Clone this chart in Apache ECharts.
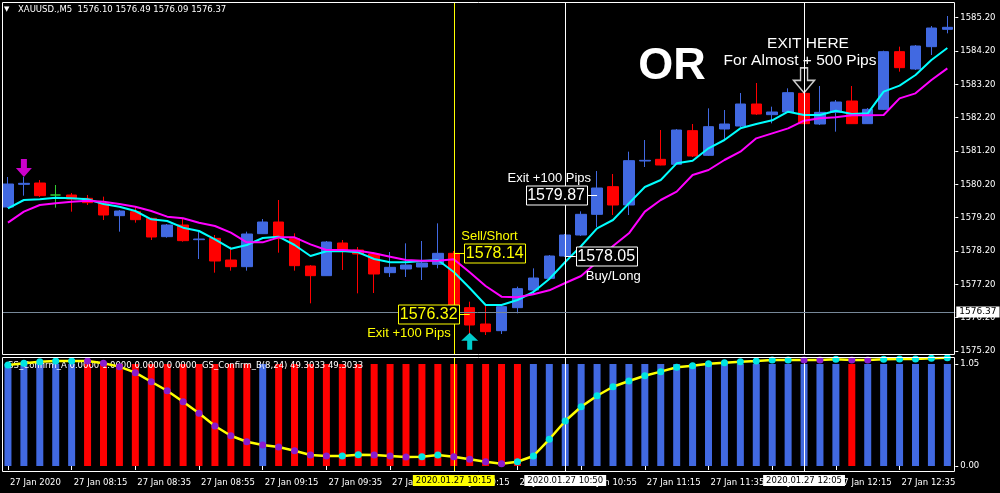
<!DOCTYPE html>
<html><head><meta charset="utf-8">
<script src="https://cdn.jsdelivr.net/npm/echarts@6/dist/echarts.min.js"></script>
<style>html,body{margin:0;padding:0;background:#000}#c{width:1000px;height:493px}</style>
</head><body><div id="c"></div>
<script>
// ---------- DATA ----------
const times = ['07:55','08:00','08:05','08:10','08:15','08:20','08:25','08:30','08:35','08:40','08:45','08:50',
 '08:55','09:00','09:05','09:10','09:15','09:20','09:25','09:30','09:35','09:40','09:45','09:50',
 '09:55','10:00','10:05','10:10','10:15','10:20','10:25','10:30','10:35','10:40','10:45','10:50',
 '10:55','11:00','11:05','11:10','11:15','11:20','11:25','11:30','11:35','11:40','11:45','11:50',
 '11:55','12:00','12:05','12:10','12:15','12:20','12:25','12:30','12:35','12:40','12:45','12:50'];
const opens = [1579.52,1580.20,1580.24,1579.88,1579.88,1579.78,1579.63,1579.26,1579.38,1579.18,1578.63,1578.98,
 1578.54,1578.58,1577.93,1577.73,1578.72,1579.07,1578.57,1577.75,1577.46,1578.44,1578.23,1578.11,
 1577.55,1577.66,1577.72,1577.80,1578.13,1576.50,1576.01,1575.81,1576.50,1577.03,1577.38,1578.05,
 1578.68,1579.30,1580.13,1579.58,1580.90,1580.95,1580.80,1581.81,1581.07,1581.86,1581.95,1582.61,
 1582.29,1582.37,1582.93,1582.01,1582.36,1582.70,1582.02,1582.45,1584.18,1583.66,1584.33,1584.85];
const closes = [1580.21,1580.23,1579.86,1579.88,1579.76,1579.65,1579.28,1579.40,1579.14,1578.62,1578.98,1578.51,
 1578.56,1577.90,1577.73,1578.71,1579.07,1578.57,1577.76,1577.46,1578.47,1578.19,1578.11,1577.51,
 1577.71,1577.78,1577.84,1578.13,1576.38,1575.98,1575.78,1576.53,1577.07,1577.39,1578.05,1578.68,
 1579.30,1580.09,1579.58,1580.91,1580.92,1580.78,1581.83,1581.05,1581.93,1582.01,1582.61,1582.31,
 1582.37,1582.95,1582.02,1582.36,1582.67,1582.02,1582.45,1584.18,1583.70,1584.35,1584.89,1584.91];
const highs = [1580.42,1580.42,1580.33,1580.18,1579.94,1579.88,1579.83,1579.43,1579.53,1579.20,1579.01,1579.18,
 1578.78,1578.68,1578.33,1578.78,1579.16,1579.73,1578.73,1577.78,1578.50,1578.53,1578.32,1578.17,
 1578.17,1578.43,1578.50,1579.03,1578.20,1576.68,1576.58,1576.58,1577.13,1577.68,1578.08,1578.71,
 1579.39,1580.60,1580.51,1581.18,1581.53,1581.83,1581.86,1582.01,1582.48,1582.43,1582.94,1583.24,
 1582.53,1583.08,1582.97,1583.15,1582.73,1583.15,1582.49,1584.21,1584.33,1584.38,1584.95,1585.25];
const lows = [1579.49,1579.86,1579.82,1579.50,1579.38,1579.58,1579.13,1578.78,1579.05,1578.53,1578.60,1578.48,
 1577.96,1577.55,1577.61,1577.61,1578.71,1578.15,1577.61,1576.63,1577.45,1577.63,1576.93,1576.94,
 1577.42,1577.42,1577.33,1577.68,1576.37,1575.68,1575.68,1575.71,1576.33,1576.88,1577.36,1578.02,
 1578.65,1578.92,1579.28,1579.28,1580.72,1580.77,1580.78,1581.02,1581.05,1581.53,1581.92,1582.28,
 1582.03,1582.34,1582.01,1581.98,1581.78,1582.01,1582.01,1582.43,1583.58,1583.63,1584.08,1584.73];
const maFast = [1579.48,1579.73,1579.75,1579.80,1579.78,1579.75,1579.61,1579.53,1579.40,1579.15,1579.10,1578.90,
 1578.80,1578.55,1578.27,1578.38,1578.59,1578.63,1578.38,1578.05,1578.19,1578.20,1578.16,1577.96,
 1577.86,1577.86,1577.90,1577.93,1577.57,1577.09,1576.58,1576.58,1576.73,1576.97,1577.36,1577.87,
 1578.35,1578.88,1579.13,1579.63,1580.12,1580.33,1580.83,1580.91,1581.28,1581.53,1581.88,1582.01,
 1582.12,1582.38,1582.28,1582.28,1582.41,1582.31,1582.33,1582.98,1583.16,1583.48,1583.93,1584.29];
const maSlow = [1579.05,1579.38,1579.58,1579.63,1579.68,1579.71,1579.68,1579.61,1579.53,1579.40,1579.23,1579.18,
 1579.05,1578.95,1578.75,1578.46,1578.46,1578.61,1578.61,1578.40,1578.23,1578.23,1578.21,1578.13,
 1578.03,1577.93,1577.91,1577.91,1577.95,1577.56,1577.15,1576.83,1576.81,1576.90,1577.02,1577.24,
 1577.45,1577.87,1578.35,1578.73,1579.38,1579.73,1579.98,1580.48,1580.63,1580.93,1581.18,1581.58,
 1581.73,1581.88,1582.11,1582.18,1582.21,1582.27,1582.27,1582.28,1582.78,1582.93,1583.33,1583.68];
// GS_Confirm_A histogram: 1 = up (blue), 0 = down (red); bars are full height
const histSignal = [1,1,1,1,1,0,0,0,0,0,0,0,0,0,0,0,1,0,0,0,0,0,0,0,0,0,0,0,0,0,0,0,0,
 1,1,1,1,1,1,1,1,1,1,1,1,1,1,1,1,1,1,1,1,0,1,1,1,1,1,1];
const histValue = 1;
// GS_Confirm_B line (panel scale) and dot state: 1 = rising (cyan), 0 = falling (purple)
const confirmB = [0.990,1.007,1.023,1.029,1.029,1.029,1.007,0.974,0.915,0.826,0.738,0.630,
 0.517,0.392,0.297,0.238,0.206,0.186,0.150,0.108,0.098,0.098,0.111,0.108,
 0.098,0.088,0.091,0.108,0.091,0.066,0.042,0.023,0.042,0.098,0.262,0.441,
 0.581,0.689,0.777,0.833,0.885,0.925,0.968,0.983,1.003,1.013,1.023,1.029,
 1.039,1.039,1.039,1.039,1.046,1.039,1.039,1.046,1.049,1.049,1.056,1.062];
const dotRising = [1,1,1,1,1,0,0,0,0,0,0,0,0,0,0,0,0,0,0,0,0,1,1,0,0,0,1,1,0,0,0,0,
 1,1,1,1,1,1,1,1,1,1,1,1,1,1,1,1,1,1,0,0,1,0,0,1,1,1,1,1];
const priceTicks = [1575.2,1576.2,1577.2,1578.2,1579.2,1580.2,1581.2,1582.2,1583.2,1584.2,1585.2];
const lowerTickValues = [0, 1];
const lowerTickLabels = ['0.00', '1.05'];
const timeLabelCats = ['07:55','08:15','08:35','08:55','09:15','09:35','09:55','10:15','10:35','10:55','11:15','11:35','11:55','12:15','12:35'];
const timeLabelTexts = ['27 Jan 2020','27 Jan 08:15','27 Jan 08:35','27 Jan 08:55','27 Jan 09:15','27 Jan 09:35','27 Jan 09:55',
 '27 Jan 10:15','27 Jan 10:35','27 Jan 10:55','27 Jan 11:15','27 Jan 11:35','27 Jan 11:55','27 Jan 12:15','27 Jan 12:35'];
const vLineTimes = ['10:15','10:50','12:05'];
const vLineTexts = ['2020.01.27 10:15','2020.01.27 10:50','2020.01.27 12:05'];
const bidPrice = 1576.37;
const sellArrow = {time:'08:00', price:1580.69};
const buyArrow = {time:'10:20', price:1575.49};
const exitArrow = {time:'12:05', price:1583.32};
const annTimes = ['10:15','10:20','11:00','10:50'];
const annPrices = [1578.14, 1576.32, 1579.87, 1578.05];
const annNotes = ['Sell/Short','Exit +100 Pips','Exit +100 Pips','Buy/Long'];
const headerText = 'XAUUSD.,M5  1576.10 1576.49 1576.09 1576.37';
const lowerHeaderText = 'GS_Confirm_A 0.0000 1.0000 0.0000 0.0000  GS_Confirm_B(8,24) 49.3033 49.3033';

// ---------- STYLE ----------
const UI = '"DejaVu Sans", sans-serif';
const UIS = 8.5;
const AR = '"Liberation Sans", Arial, sans-serif';
const BLUE = '#4169e1', RED = '#ff0000';
const vLineColors = ['#ffff00', '#ffffff', '#ffffff'];
const vLabelBg = ['#ffff00', '#ffffff', '#ffffff'];

const chart = echarts.init(document.getElementById('c'));
const candleData = times.map((t, i) => [opens[i], closes[i], lows[i], highs[i]]);
const showLabel = (i, v) => timeLabelCats.indexOf(v) >= 0;

const option = {
  backgroundColor: '#000',
  animation: false,
  grid: [
    {left: -4.7, top: 2, width: 960, height: 353},
    {left: -4.7, top: 357, width: 960, height: 115}
  ],
  xAxis: [
    {type: 'category', gridIndex: 0, data: times, boundaryGap: true, show: false},
    {type: 'category', gridIndex: 1, data: times, boundaryGap: true,
     axisLine: {show: false}, splitLine: {show: false},
     axisTick: {show: true, alignWithLabel: true, interval: showLabel, length: 4, lineStyle: {color: '#fff'}},
     axisLabel: {interval: showLabel, formatter: v => timeLabelTexts[timeLabelCats.indexOf(v)],
       align: 'left', color: '#fff', fontFamily: UI, fontSize: UIS, margin: 6, padding: [0, 0, 0, 2]}}
  ],
  yAxis: [
    {type: 'value', gridIndex: 0, position: 'right', min: 1575.08, max: 1585.67,
     splitLine: {show: false}, axisLine: {show: false},
     axisTick: {show: true, customValues: priceTicks, length: 3, lineStyle: {color: '#fff'}},
     axisLabel: {customValues: priceTicks, formatter: v => v.toFixed(2), color: '#fff', fontFamily: UI, fontSize: UIS, margin: 5}},
    {type: 'value', gridIndex: 1, position: 'right', min: -0.0588, max: 1.0686,
     splitLine: {show: false}, axisLine: {show: false},
     axisTick: {show: true, customValues: lowerTickValues, length: 3, lineStyle: {color: '#fff'}},
     axisLabel: {customValues: lowerTickValues, formatter: v => lowerTickLabels[lowerTickValues.indexOf(v)],
       color: '#fff', fontFamily: UI, fontSize: UIS, margin: 5}}
  ],
  series: [
    {type: 'candlestick', xAxisIndex: 0, yAxisIndex: 0, data: candleData, barWidth: 11, z: 2,
     itemStyle: {color: BLUE, color0: RED, borderColor: BLUE, borderColor0: RED, borderColorDoji: '#32cd32', borderWidth: 1},
     markLine: {silent: true, symbol: ['none', 'none'], animation: false,
       data: vLineTimes.map((t, k) => ({xAxis: t, lineStyle: {color: vLineColors[k], width: 1, type: 'solid'}, label: {show: false}}))
         .concat([{yAxis: bidPrice, lineStyle: {color: '#778899', width: 1, type: 'solid'},
           label: {show: true, position: 'end', formatter: bidPrice.toFixed(2), distance: 1,
             backgroundColor: '#fff', color: '#000', fontFamily: UI, fontSize: 9, padding: [1, 3, 1, 3]}}])}},
    {type: 'line', xAxisIndex: 0, yAxisIndex: 0, data: maFast, showSymbol: false, z: 3,
     lineStyle: {color: '#00ffff', width: 2}},
    {type: 'line', xAxisIndex: 0, yAxisIndex: 0, data: maSlow, showSymbol: false, z: 3,
     lineStyle: {color: '#ff00ff', width: 2}},
    {type: 'scatter', xAxisIndex: 0, yAxisIndex: 0, z: 4, silent: true,
     data: [
       {value: [sellArrow.time, sellArrow.price], symbol: 'path://M5,0L11,0L11,9L16,9L8,18L0,9L5,9Z', symbolSize: [16, 18],
        itemStyle: {color: '#ff00ff'}},
       {value: [buyArrow.time, buyArrow.price], symbol: 'path://M8.5,0L17,8L11,8L11,17L6,17L6,8L0,8Z', symbolSize: [17, 17],
        itemStyle: {color: '#00ffff'}},
       {value: [exitArrow.time, exitArrow.price], symbol: 'path://M7,0L14,0L14,12L21,12L10.5,24L0,12L7,12Z', symbolSize: [21, 25],
        itemStyle: {color: '#000', borderColor: '#fff', borderWidth: 1.5}}
     ]},
    {type: 'bar', xAxisIndex: 1, yAxisIndex: 1, barWidth: 7, z: 2,
     data: histSignal.map(s => ({value: histValue, itemStyle: {color: s ? BLUE : RED}})),
     markLine: {silent: true, symbol: ['none', 'none'], animation: false,
       data: vLineTimes.map((t, k) => ({xAxis: t, lineStyle: {color: vLineColors[k], width: 1, type: 'solid'},
         label: {show: true, position: 'start', formatter: vLineTexts[k], distance: 3, backgroundColor: vLabelBg[k],
           color: '#000', fontFamily: UI, fontSize: UIS, padding: [1, 3, 1, 3]}}))}},
    {type: 'line', xAxisIndex: 1, yAxisIndex: 1, z: 5, clip: false,
     data: confirmB.map((v, i) => ({value: v, itemStyle: {color: dotRising[i] ? '#00e5e5' : '#8a1ccf'}})),
     symbol: 'circle', symbolSize: 7, showSymbol: true,
     lineStyle: {color: '#ffff00', width: 2.5}}
  ]
};
chart.setOption(option);

// ---------- ANNOTATIONS (positioned through the chart's own scales) ----------
const annStyle = [
  {side: 'right', color: '#ffff00', noteDx: -3, noteDy: -17.5},
  {side: 'left', color: '#ffff00', noteDx: -31, noteDy: 19},
  {side: 'left', color: '#ffffff', noteDx: -18, noteDy: -17},
  {side: 'right', color: '#ffffff', noteDx: 10, noteDy: 19.5}
];
const g = [];
annTimes.forEach((t, k) => {
  const p = chart.convertToPixel({xAxisIndex: 0, yAxisIndex: 0}, [times.indexOf(t), annPrices[k]]);
  const s = annStyle[k], w = 61, h = 19, gap = 10.5;
  const ax = p[0], ay = Math.round(p[1]) + 0.5;
  const bx = s.side === 'right' ? ax + gap : ax - gap - w;
  g.push({type: 'line', z: 20, shape: {x1: ax, y1: ay, x2: s.side === 'right' ? bx : bx + w, y2: ay},
          style: {stroke: s.color, lineWidth: 1}});
  g.push({type: 'rect', z: 20, shape: {x: Math.round(bx) + 0.5, y: ay - h / 2, width: w, height: h},
          style: {fill: '#000', stroke: s.color, lineWidth: 1}});
  g.push({type: 'text', z: 21, x: bx + w / 2, y: ay + 0.5,
          style: {text: annPrices[k].toFixed(2), fill: s.color, font: '16px ' + AR, textAlign: 'center', textVerticalAlign: 'middle'}});
  g.push({type: 'text', z: 21, x: bx + s.noteDx, y: ay + s.noteDy,
          style: {text: annNotes[k], fill: s.color, font: '13px ' + AR, textAlign: 'left', textVerticalAlign: 'middle'}});
});
// frames
g.push({type: 'rect', z: 30, shape: {x: 0, y: 0, width: 2, height: 493}, style: {fill: '#000'}});
g.push({type: 'rect', z: 31, shape: {x: 2.5, y: 2.5, width: 952, height: 352}, style: {fill: null, stroke: '#fff', lineWidth: 1}});
g.push({type: 'rect', z: 31, shape: {x: 2.5, y: 357.5, width: 952, height: 114}, style: {fill: null, stroke: '#fff', lineWidth: 1}});
// headers and captions
g.push({type: 'text', z: 32, x: 4, y: 9.5, style: {text: '▼', fill: '#fff', font: '7px ' + UI, textVerticalAlign: 'middle'}});
g.push({type: 'text', z: 32, x: 18, y: 9.5, style: {text: headerText, fill: '#fff', font: UIS + 'px ' + UI, textVerticalAlign: 'middle'}});
g.push({type: 'text', z: 3, x: 7, y: 366, style: {text: lowerHeaderText, fill: '#fff', font: UIS + 'px ' + UI, textVerticalAlign: 'middle'}});
g.push({type: 'text', z: 25, x: 672, y: 67, style: {text: 'OR', fill: '#fff', font: 'bold 45px ' + AR, textAlign: 'center', textVerticalAlign: 'middle'}});
g.push({type: 'text', z: 25, x: 808, y: 44, style: {text: 'EXIT HERE', fill: '#fff', font: '15.5px ' + AR, textAlign: 'center', textVerticalAlign: 'middle'}});
g.push({type: 'text', z: 25, x: 800, y: 61, style: {text: 'For Almost + 500 Pips', fill: '#fff', font: '15.5px ' + AR, textAlign: 'center', textVerticalAlign: 'middle'}});
chart.setOption({graphic: g});
</script></body></html>
